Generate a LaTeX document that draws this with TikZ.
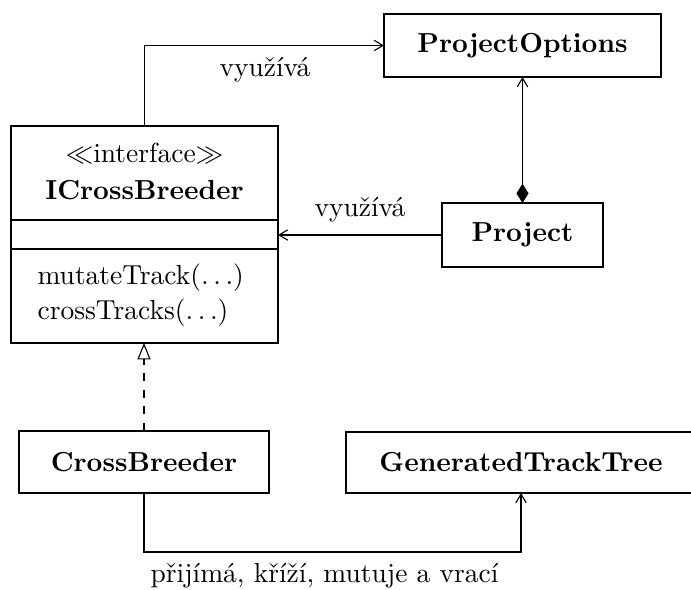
\documentclass[tikz,border=0pt]{standalone}
\usetikzlibrary{arrows.meta}
\begin{document}
\begin{tikzpicture}[x=0.3636pt, y=-0.3636pt,
  box/.style={draw, rectangle, inner sep=0pt, outer sep=0pt, font=\bfseries},
  opentip/.tip={Straight Barb[length=3.2pt,width=3.8pt]},
  uses/.style={-opentip},
  lbl/.style={inner sep=0pt, anchor=base}]
\useasboundingbox (0,0) rectangle (691,590);

% classes
\node[box, minimum width=277*0.3636pt, minimum height=63*0.3636pt] (PO) at (522.5,45.5) {ProjectOptions};
\node[box, minimum width=161*0.3636pt, minimum height=64*0.3636pt] (Proj) at (522.5,235) {Project};
\node[box, minimum width=267*0.3636pt, minimum height=217*0.3636pt] (ICB) at (144.5,234.5) {};
\node[box, minimum width=250*0.3636pt, minimum height=62*0.3636pt] (CB) at (144,462) {CrossBreeder};
\node[box, minimum width=350*0.3636pt, minimum height=61*0.3636pt] (GTT) at (521,462.5) {GeneratedTrackTree};

% interface compartments
\newcommand{\dotsargs}{.\kern1.67pt.\kern1.67pt.}
\node[lbl] (stereo) at (144.5,163) {$\ll$interface$\gg$};
\node[lbl, font=\bfseries] (icbname) at (144.5,200) {ICrossBreeder};
\draw (ICB.west |- 0,220) -- (ICB.east |- 0,220);
\draw (ICB.west |- 0,249) -- (ICB.east |- 0,249);
\node[lbl, anchor=base west] (m1) at (37,285) {mutateTrack(\dotsargs)};
\node[lbl, anchor=base west] (m2) at (37,320) {crossTracks(\dotsargs)};

% relations
\draw[uses] (ICB.north) |- (PO.west);
\node[lbl] (u1) at (265,77) {využívá};
\draw[uses] (Proj.west) -- (Proj.west -| ICB.east);
\node[lbl] (u2) at (360,217) {využívá};
\draw[{Diamond[length=7pt,width=4.4pt]}-opentip] (Proj.north) -- (Proj.north |- PO.south);
\draw[dashed, -{Triangle[open,length=6pt,width=4.8pt]}] (CB.north) -- (CB.north |- ICB.south);
\coordinate (bend) at (144,552);
\draw[uses] (CB.south) -- (bend) -| (GTT.south);
\node[lbl, anchor=base west] (u3) at (150,583) {přijímá, kříží, mutuje a vrací};
\end{tikzpicture}
\end{document}
